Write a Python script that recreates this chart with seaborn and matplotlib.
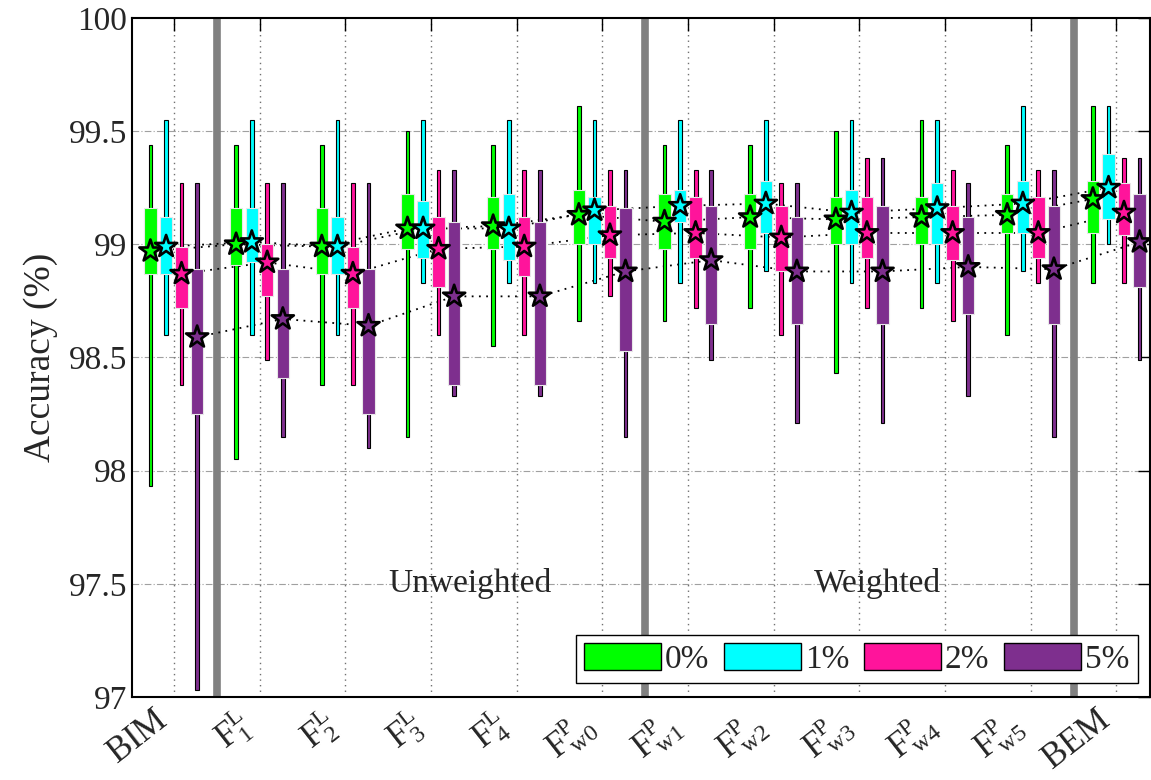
import numpy as np
import pandas as pd
import matplotlib
matplotlib.use('Agg')
import matplotlib.pyplot as plt
from matplotlib.patches import Patch
import seaborn as sns

# Groups and noise levels
groups = [r'$\mathrm{BIM}$',
          r'$\mathrm{F}^{\mathrm{L}}_{1}$', r'$\mathrm{F}^{\mathrm{L}}_{2}$',
          r'$\mathrm{F}^{\mathrm{L}}_{3}$', r'$\mathrm{F}^{\mathrm{L}}_{4}$',
          r'$\mathrm{F}^{\mathrm{P}}_{\mathrm{w0}}$', r'$\mathrm{F}^{\mathrm{P}}_{\mathrm{w1}}$',
          r'$\mathrm{F}^{\mathrm{P}}_{\mathrm{w2}}$', r'$\mathrm{F}^{\mathrm{P}}_{\mathrm{w3}}$',
          r'$\mathrm{F}^{\mathrm{P}}_{\mathrm{w4}}$', r'$\mathrm{F}^{\mathrm{P}}_{\mathrm{w5}}$',
          r'$\mathrm{BEM}$']
levels = ['0%', '1%', '2%', '5%']
colors = ['#00ff00', '#00ffff', '#ff149b', '#7e2f8e']

# 0 %
hi_0 = [99.44, 99.44, 99.44, 99.50, 99.44, 99.61, 99.44, 99.44, 99.50, 99.55, 99.44, 99.61]
q3_0 = [99.16, 99.16, 99.16, 99.22, 99.21, 99.24, 99.22, 99.22, 99.21, 99.21, 99.22, 99.28]
q1_0 = [98.87, 98.91, 98.87, 98.98, 98.98, 99.00, 98.98, 98.98, 99.00, 99.00, 99.05, 99.05]
lo_0 = [97.93, 98.05, 98.38, 98.15, 98.55, 98.66, 98.66, 98.72, 98.43, 98.72, 98.60, 98.83]
mean_0 = [98.97, 99.00, 98.99, 99.07, 99.08, 99.13, 99.10, 99.12, 99.11, 99.12, 99.13, 99.20]
# 1 %
hi_1 = [99.55, 99.55, 99.55, 99.55, 99.55, 99.55, 99.55, 99.55, 99.55, 99.55, 99.61, 99.61]
q3_1 = [99.12, 99.16, 99.12, 99.19, 99.22, 99.21, 99.24, 99.28, 99.24, 99.27, 99.28, 99.40]
q1_1 = [98.87, 98.92, 98.87, 98.94, 98.93, 99.00, 99.10, 99.05, 99.00, 99.00, 99.05, 99.11]
lo_1 = [98.60, 98.60, 98.60, 98.83, 98.83, 98.83, 98.83, 98.88, 98.83, 98.83, 98.88, 99.00]
mean_1 = [98.99, 99.01, 98.99, 99.07, 99.07, 99.15, 99.17, 99.18, 99.14, 99.16, 99.18, 99.25]
# 2 %
hi_2 = [99.27, 99.27, 99.27, 99.33, 99.33, 99.33, 99.33, 99.27, 99.38, 99.33, 99.33, 99.38]
q3_2 = [98.99, 99.00, 98.99, 99.12, 99.12, 99.17, 99.21, 99.17, 99.21, 99.17, 99.21, 99.27]
q1_2 = [98.72, 98.77, 98.72, 98.81, 98.86, 98.94, 98.94, 98.88, 98.94, 98.93, 98.94, 99.04]
lo_2 = [98.38, 98.49, 98.38, 98.60, 98.60, 98.77, 98.72, 98.60, 98.72, 98.66, 98.83, 98.83]
mean_2 = [98.87, 98.92, 98.87, 98.98, 98.99, 99.04, 99.05, 99.03, 99.05, 99.05, 99.05, 99.14]
# 5 %
hi_5 = [99.27, 99.27, 99.27, 99.33, 99.33, 99.33, 99.33, 99.27, 99.38, 99.27, 99.33, 99.38]
q3_5 = [98.89, 98.89, 98.89, 99.10, 99.10, 99.16, 99.17, 99.12, 99.17, 99.12, 99.17, 99.22]
q1_5 = [98.25, 98.41, 98.25, 98.38, 98.38, 98.53, 98.65, 98.65, 98.65, 98.69, 98.65, 98.81]
lo_5 = [97.03, 98.15, 98.10, 98.33, 98.33, 98.15, 98.49, 98.21, 98.21, 98.33, 98.15, 98.49]
mean_5 = [98.59, 98.67, 98.64, 98.77, 98.77, 98.88, 98.93, 98.88, 98.88, 98.90, 98.89, 99.01]

stats = {
    '0%': (lo_0, q1_0, q3_0, hi_0, mean_0),
    '1%': (lo_1, q1_1, q3_1, hi_1, mean_1),
    '2%': (lo_2, q1_2, q3_2, hi_2, mean_2),
    '5%': (lo_5, q1_5, q3_5, hi_5, mean_5),
}

offsets = [-0.275, -0.092, 0.088, 0.27]

rows = []
for k, lev in enumerate(levels):
    lo, q1, q3, hi, mn = stats[lev]
    for g in range(len(groups)):
        rows.append({'level': lev, 'pos': g + offsets[k], 'lo': lo[g], 'q1': q1[g],
                     'q3': q3[g], 'hi': hi[g], 'mean': mn[g]})
df = pd.DataFrame(rows)

sns.set_theme(style='white')
plt.rcParams['font.family'] = ['Liberation Serif', 'DejaVu Serif']
plt.rcParams['mathtext.fontset'] = 'custom'
plt.rcParams['mathtext.rm'] = 'Liberation Serif'
plt.rcParams['mathtext.it'] = 'Liberation Serif:italic'

fig = plt.figure(figsize=(11.51, 7.8), dpi=100)
ax = fig.add_axes([0.1147, 0.1064, 0.8843, 0.8706])

# grid
for yv in [97.5, 98, 98.5, 99, 99.5]:
    ax.axhline(yv, color='#a0a0a0', lw=0.8, ls=(0, (6, 2, 1, 2)), zorder=0)
for g in range(len(groups)):
    ax.axvline(g, color='#707070', lw=1, ls=(0, (1, 3)), zorder=0)
for xs in [0.5, 5.5, 10.5]:
    ax.axvline(xs, color='#808080', lw=5.5, zorder=1)

# mean connection lines
sns.lineplot(data=df, x='pos', y='mean', units='level', estimator=None, color='black',
             lw=1.3, ls=(0, (1, 3)), ax=ax, zorder=2, legend=False)

for k, lev in enumerate(levels):
    d = df[df['level'] == lev]
    ax.bar(d['pos'], d['hi'] - d['lo'], bottom=d['lo'], width=0.045, color=colors[k],
           edgecolor='black', lw=0.8, zorder=3)
    ax.bar(d['pos'], d['q3'] - d['q1'], bottom=d['q1'], width=0.146, color=colors[k],
           edgecolor='#e8e8e8', lw=0.8, zorder=4)

sns.scatterplot(data=df, x='pos', y='mean', hue='level', palette=colors, marker='*',
                s=280, edgecolor='black', linewidth=1.9, ax=ax, zorder=5, legend=False)

ax.set_xlim(-0.49, 11.39)
ax.set_ylim(97, 100)
ax.set_xticks(range(len(groups)))
ax.set_xticklabels(groups, rotation=38, ha='right', fontsize=25)
ax.set_yticks([97, 97.5, 98, 98.5, 99, 99.5, 100])
ax.set_yticklabels(['97', '97.5', '98', '98.5', '99', '99.5', '100'], fontsize=24)
ax.tick_params(direction='in', top=True, right=True, length=9, width=1, color='black')
ax.tick_params(axis='x', pad=5)
ax.set_xlabel('')
ax.set_ylabel('Accuracy (%)', fontsize=27, labelpad=8)
for sp in ax.spines.values():
    sp.set_color('black')
    sp.set_linewidth(1.5)

ax.text(3.45, 97.5, 'Unweighted', fontsize=24, ha='center', va='center', zorder=6)
ax.text(8.21, 97.5, 'Weighted', fontsize=24, ha='center', va='center', zorder=6)

handles = [Patch(facecolor=c, edgecolor='black', lw=1) for c in colors]
leg = ax.legend(handles, levels, ncol=4, loc='lower right', bbox_to_anchor=(0.988, 0.02),
                fontsize=24, handlelength=2.3, handleheight=0.85, handletextpad=0.12,
                columnspacing=0.45, borderpad=0.25, fancybox=False, framealpha=1,
                edgecolor='black', borderaxespad=0)
leg.get_frame().set_linewidth(1)
leg.set_zorder(10)

fig.savefig('out.png', dpi=100)
